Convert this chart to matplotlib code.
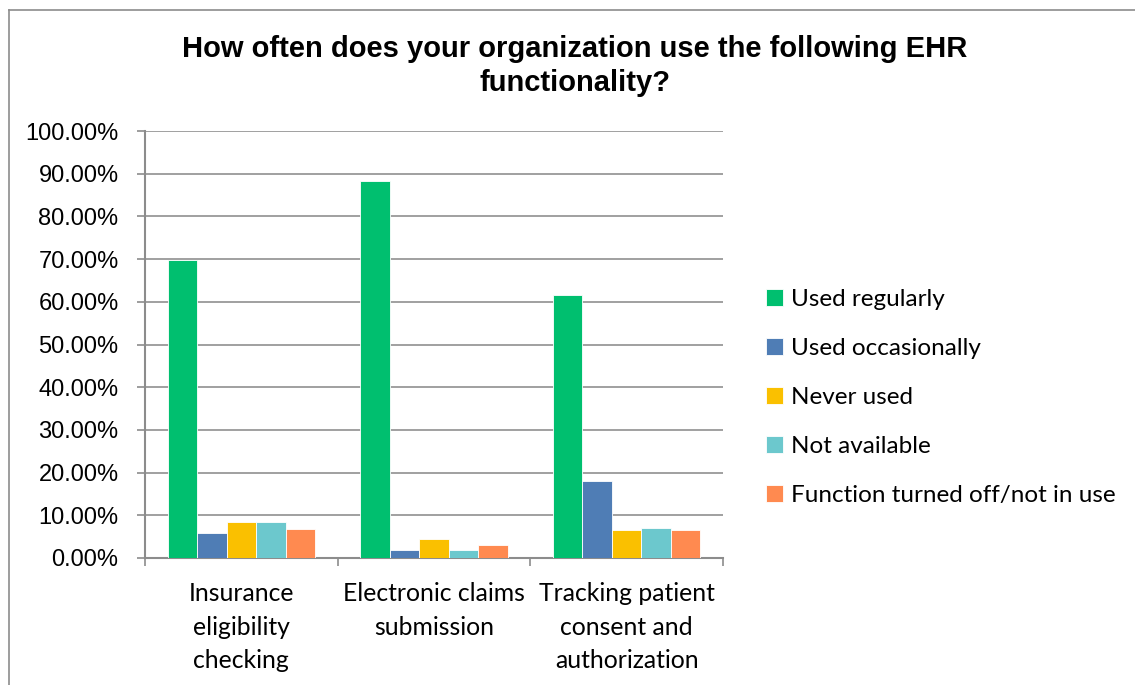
import numpy as np
import matplotlib.pyplot as plt
from matplotlib.lines import Line2D
from matplotlib.ticker import MultipleLocator, FuncFormatter

categories = ["Insurance\neligibility\nchecking",
              "Electronic claims\nsubmission",
              "Tracking patient\nconsent and\nauthorization"]
series = ["Used regularly", "Used occasionally", "Never used",
          "Not available", "Function turned off/not in use"]
used_regularly = [69.7, 88.3, 61.6]
used_occasionally = [5.9, 1.9, 18.1]
never_used = [8.5, 4.5, 6.5]
not_available = [8.5, 1.9, 7.0]
turned_off = [6.9, 3.0, 6.5]
values = [used_regularly, used_occasionally, never_used, not_available, turned_off]
bar_colors = ["#00BF6F", "#4F7DB5", "#FAC000", "#6CC8CD", "#FF8A50"]

fig = plt.figure(figsize=(11.35, 6.85), dpi=100)
ax = fig.add_axes([145 / 1135, 1 - 558 / 685, 578 / 1135, 427 / 685])

x = np.arange(len(categories))
w = 0.153
for i, (name, vals, c) in enumerate(zip(series, values, bar_colors)):
    ax.bar(x + (i - 2) * w, vals, w, color=c, label=name,
           edgecolor="white", linewidth=0.6, zorder=3)

ax.set_xlim(-0.5, 2.5)
ax.set_ylim(0, 100)
ax.yaxis.set_major_locator(MultipleLocator(10))
ax.yaxis.set_major_formatter(FuncFormatter(lambda v, p: f"{v:.2f}%"))
ax.grid(axis="y", color="#999999", linewidth=1.3, zorder=0)
for s in ["top", "right"]:
    ax.spines[s].set_visible(False)
for s in ["left", "bottom"]:
    ax.spines[s].set_color("#8c8c8c")
    ax.spines[s].set_linewidth(1.5)

ax.set_xticks([-0.5, 0.5, 1.5, 2.5])
ax.set_xticklabels([])
ax.tick_params(axis="x", length=6, color="#8c8c8c", width=1.2)
ax.tick_params(axis="y", length=6, color="#8c8c8c", width=1.2, pad=13,
               labelsize=17)
for lab in ax.get_yticklabels():
    lab.set_fontfamily("Liberation Sans")

for xi, cat in zip(x, categories):
    ax.text(xi, -5.7, cat, ha="center", va="top", fontsize=17.8,
            family="Lato", linespacing=1.55, transform=ax.transData)

fig.text(575 / 1135, 1 - 66 / 685,
         "How often does your organization use the following EHR\nfunctionality?",
         ha="center", va="center", fontsize=21, fontweight="bold",
         family="Liberation Sans", linespacing=1.25)

leg = ax.legend(loc="center left", bbox_to_anchor=(1.036, 0.376), frameon=False,
                prop={"family": "Lato", "size": 17.5}, handlelength=0.7,
                handleheight=0.7, handletextpad=0.35, labelspacing=1.15)

fig.add_artist(Line2D([9 / 1135, 1], [1 - 10 / 685, 1 - 10 / 685],
                      color="#8c8c8c", linewidth=1.2))
fig.add_artist(Line2D([9 / 1135, 9 / 1135], [0, 1 - 10 / 685],
                      color="#8c8c8c", linewidth=1.2))

fig.savefig("out.png", dpi=100)
